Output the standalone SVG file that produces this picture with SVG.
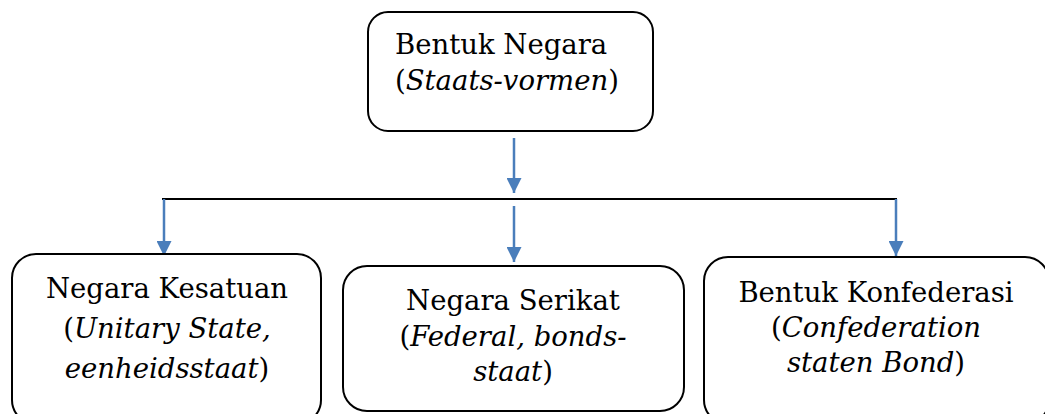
<svg xmlns="http://www.w3.org/2000/svg" width="1045" height="414" viewBox="0 0 1045 414">
<defs>
<style>
.box{fill:#fff;stroke:#000;stroke-width:2}
.t{font-family:"DejaVu Serif","Liberation Serif",serif;font-size:27.5px;fill:#000}
.c{text-anchor:middle}
.i{font-style:italic}
.arr{stroke:#4a7ebb;stroke-width:2.5;fill:none}
.bar{stroke:#000;stroke-width:2;fill:none}
</style>
<marker id="ah" viewBox="0 0 10 10" refX="10" refY="5" markerWidth="6" markerHeight="6" markerUnits="strokeWidth" orient="auto">
<path d="M0,0 L10,5 L0,10 z" fill="#4a7ebb"/>
</marker>
</defs>
<rect width="1045" height="414" fill="#fff"/>
<g id="connectors">
<line class="bar" x1="162" y1="199" x2="897" y2="199"/>
<line class="arr" x1="514" y1="138" x2="514" y2="193" marker-end="url(#ah)"/>
<line class="arr" x1="164" y1="199" x2="164" y2="256" marker-end="url(#ah)"/>
<line class="arr" x1="514" y1="206" x2="514" y2="262" marker-end="url(#ah)"/>
<line class="arr" x1="896" y1="199" x2="896" y2="256" marker-end="url(#ah)"/>
</g>
<g id="node-top">
<rect class="box" x="368" y="12" width="285" height="119" rx="20"/>
<text class="t" x="395" y="54">Bentuk Negara</text>
<text class="t" x="395" y="90">(<tspan class="i">Staats-vormen</tspan>)</text>
</g>
<g id="node-kesatuan">
<rect class="box" x="12" y="254" width="309" height="170" rx="24"/>
<text class="t c" x="167" y="298">Negara Kesatuan</text>
<text class="t c" x="167" y="338">(<tspan class="i">Unitary State,</tspan></text>
<text class="t c" x="167" y="378"><tspan class="i">eenheidsstaat</tspan>)</text>
</g>
<g id="node-serikat">
<rect class="box" x="343" y="266" width="341" height="145" rx="24"/>
<text class="t c" x="513" y="310">Negara Serikat</text>
<text class="t c" x="513" y="346">(<tspan class="i">Federal, bonds-</tspan></text>
<text class="t c" x="513" y="381"><tspan class="i">staat</tspan>)</text>
</g>
<g id="node-konfederasi">
<rect class="box" x="704" y="257" width="345" height="167" rx="24"/>
<text class="t c" x="876" y="302">Bentuk Konfederasi</text>
<text class="t c" x="876" y="337">(<tspan class="i">Confederation</tspan></text>
<text class="t c" x="876" y="372"><tspan class="i">staten Bond</tspan>)</text>
</g>
</svg>
